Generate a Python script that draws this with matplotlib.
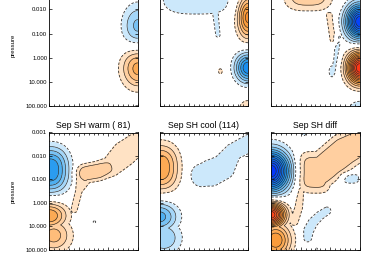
"""Monthly composite contour panels: warm / cool / diff, pressure vs. latitude."""
import numpy as np
import matplotlib
matplotlib.use('Agg')
import matplotlib.pyplot as plt
from matplotlib.ticker import FixedLocator, NullFormatter

plt.rcParams['font.family'] = ['Liberation Sans', 'DejaVu Sans']

# --- panel data ---
# x = fraction of panel width, y = log10(pressure), amp in contour intervals.
# blobs: centre, amplitude, widths, shape q (1 gaussian, >1 boxier)
# ridges: a path of points with width and amplitude at each point
titles = ["", "", "", "Sep SH warm ( 81)", "Sep SH cool (114)", "Sep SH diff"]

# top-left: warm
tl_cx = [1.00, 1.00, 1.00]
tl_cy = [-1.30, 0.41, 2.15]
tl_amp = [-3.3, 4.5, -1.5]
tl_sx = [0.123, 0.127, 0.07]
tl_sy = [0.65, 0.58, 0.25]
tl_q = [1.0, 1.0, 1.0]

# top-middle: cool
tm_cx = [0.42, 1.00, 1.00, 0.69, 1.00]
tm_cy = [-2.60, -1.69, 0.40, 0.55, 2.20]
tm_amp = [-1.8, 6.5, -7.0, 1.2, 2.3]
tm_sx = [0.36, 0.083, 0.10, 0.04, 0.08]
tm_sy = [0.75, 0.60, 0.42, 0.20, 0.35]
tm_q = [1.5, 1.0, 1.0, 1.0, 1.0]
tm_fing_x = [0.63, 0.66]
tm_fing_y = [-1.90, -0.95]
tm_fing_w = [0.035, 0.03]
tm_fing_a = [-1.5, -1.4]

# top-right: diff
tr_cx = [0.42, 1.00, 1.00, 1.00, 0.69]
tr_cy = [-2.70, -1.50, 0.41, 2.30, 0.55]
tr_amp = [2.8, -12.0, 13.0, -2.5, -1.4]
tr_sx = [0.22, 0.108, 0.097, 0.10, 0.045]
tr_sy = [0.60, 0.49, 0.44, 0.40, 0.30]
tr_q = [1.5, 1.0, 1.0, 1.0, 1.0]
tr_fing_x = [0.66, 0.70]
tr_fing_y = [-1.75, -0.75]
tr_fing_w = [0.04, 0.04]
tr_fing_a = [1.5, 1.5]
tr_strip_x = [0.76, 0.73, 0.70]
tr_strip_y = [-0.85, 0.10, 0.60]
tr_strip_w = [0.035, 0.035, 0.035]
tr_strip_a = [-1.4, -1.4, -1.4]

# bottom-left: Sep warm
bl_cx = [0.00, 0.00, 0.05, 0.51]
bl_cy = [-1.40, 0.55, 1.40, 0.82]
bl_amp = [-6.0, 5.0, 3.5, -1.3]
bl_sx = [0.16, 0.14, 0.14, 0.02]
bl_sy = [0.72, 0.40, 0.50, 0.06]
bl_q = [1.2, 1.0, 1.0, 1.0]
bl_band_x = [0.28, 0.33, 0.40, 0.55, 0.70, 0.85, 1.02]
bl_band_y = [0.30, -0.50, -1.25, -1.35, -1.55, -2.10, -2.60]
bl_band_w = [0.045, 0.045, 0.10, 0.10, 0.105, 0.145, 0.125]
bl_band_a = [1.2, 1.5, 2.4, 2.4, 2.0, 1.6, 1.6]

# bottom-middle: Sep cool
bm_cx = [0.00, 0.00, 0.05]
bm_cy = [-1.50, 0.60, 1.50]
bm_amp = [5.0, -4.5, -3.0]
bm_sx = [0.157, 0.145, 0.14]
bm_sy = [0.73, 0.45, 0.50]
bm_q = [1.2, 1.0, 1.0]
bm_band_x = [0.48, 0.58, 0.71, 0.83, 1.02]
bm_band_y = [-1.17, -1.27, -1.50, -2.17, -2.55]
bm_band_w = [0.13, 0.15, 0.14, 0.095, 0.10]
bm_band_a = [-1.7, -1.7, -1.7, -1.7, -1.7]

# bottom-right: Sep diff
br_cx = [0.00, 0.00, 0.05, 0.48, 0.90, 0.37, 0.51]
br_cy = [-1.35, 0.51, 1.60, -1.30, -1.03, -2.95, 1.97]
br_amp = [-13.0, 12.0, 6.0, 2.6, -1.6, -1.4, -1.4]
br_sx = [0.14, 0.108, 0.12, 0.165, 0.09, 0.025, 0.015]
br_sy = [0.60, 0.36, 0.50, 0.76, 0.20, 0.10, 0.04]
br_q = [1.0, 1.0, 1.0, 2.0, 1.5, 1.0, 1.0]
br_band_x = [0.55, 0.83, 1.03]
br_band_y = [-1.35, -2.20, -2.60]
br_band_w = [0.17, 0.18, 0.16]
br_band_a = [2.6, 2.6, 2.6]
br_fing_x = [0.33, 0.31, 0.26]
br_fing_y = [-0.55, 0.20, 0.80]
br_fing_w = [0.05, 0.05, 0.05]
br_fing_a = [1.5, 1.5, 1.5]
br_patch_x = [0.63, 0.55, 0.47, 0.42, 0.41]
br_patch_y = [0.35, 0.55, 0.85, 1.20, 1.50]
br_patch_w = [0.045, 0.05, 0.055, 0.06, 0.05]
br_patch_a = [-1.6, -1.6, -1.6, -1.6, -1.6]

panels = [
    ((tl_cx, tl_cy, tl_amp, tl_sx, tl_sy, tl_q), []),
    ((tm_cx, tm_cy, tm_amp, tm_sx, tm_sy, tm_q),
     [(tm_fing_x, tm_fing_y, tm_fing_w, tm_fing_a, 1.0)]),
    ((tr_cx, tr_cy, tr_amp, tr_sx, tr_sy, tr_q),
     [(tr_fing_x, tr_fing_y, tr_fing_w, tr_fing_a, 1.0),
      (tr_strip_x, tr_strip_y, tr_strip_w, tr_strip_a, 1.0)]),
    ((bl_cx, bl_cy, bl_amp, bl_sx, bl_sy, bl_q),
     [(bl_band_x, bl_band_y, bl_band_w, bl_band_a, 2.0)]),
    ((bm_cx, bm_cy, bm_amp, bm_sx, bm_sy, bm_q),
     [(bm_band_x, bm_band_y, bm_band_w, bm_band_a, 2.0)]),
    ((br_cx, br_cy, br_amp, br_sx, br_sy, br_q),
     [(br_band_x, br_band_y, br_band_w, br_band_a, 2.0),
      (br_fing_x, br_fing_y, br_fing_w, br_fing_a, 1.0),
      (br_patch_x, br_patch_y, br_patch_w, br_patch_a, 1.5)]),
]

ytick_vals = [0.001, 0.01, 0.1, 1.0, 10.0, 100.0]
ytick_labels = ["0.001", "0.010", "0.100", "1.000", "10.000", "100.000"]

# fill colours per contour band (1..14)
blue_cols = ["#cce8fb", "#a4d6f8", "#78c2f4", "#4eaff0", "#2a9cf0", "#1a8ef0", "#1480f2",
             "#0e72f4", "#0a62f6", "#0852f8", "#0644fa", "#0436fc", "#0228fe", "#0018ff"]
orange_cols = ["#ffe2c4", "#ffcfa0", "#ffbd7a", "#fcaa54", "#f99c3c", "#f89030", "#f8842a",
               "#f87626", "#fa6622", "#fc561e", "#fd461a", "#fe3616", "#ff2612", "#ff160e"]

levels = list(range(-15, 0)) + list(range(1, 16))
colors = blue_cols[::-1] + ["white"] + orange_cols

ASPECT = 0.27  # one decade of pressure in units of panel width
xg = np.linspace(0, 1, 260)
lg = np.linspace(-3, 2, 320)
XX, LL = np.meshgrid(xg, lg)
YN = LL * ASPECT


def ridge_field(px, py, pw, pa, q):
    """Tube-shaped feature along a path (signed)."""
    best = np.zeros_like(XX)
    sign = np.sign(pa[0])
    for j in range(len(px) - 1):
        ax0, ay0 = px[j], py[j] * ASPECT
        vx, vy = px[j + 1] - ax0, py[j + 1] * ASPECT - ay0
        t = np.clip(((XX - ax0) * vx + (YN - ay0) * vy) / (vx ** 2 + vy ** 2), 0, 1)
        d = np.hypot(XX - ax0 - t * vx, YN - ay0 - t * vy)
        w = pw[j] + t * (pw[j + 1] - pw[j])
        a = abs(pa[j]) + t * (abs(pa[j + 1]) - abs(pa[j]))
        best = np.maximum(best, a * np.exp(-0.5 * (d / w) ** (2 * q)))
    return sign * best


fig = plt.figure(figsize=(3.8, 2.54), dpi=100)
W, H = 380.0, 254.0
col_left = [49.3, 159.5, 271.2]
ax_w = 88.5
row_span = [(-14.9, 106.5), (132.5, 249.5)]

for i, ((cx, cy, amp, sx, sy, q), ridges) in enumerate(panels):
    r, c = divmod(i, 3)
    top, bot = row_span[r]
    ax = fig.add_axes([col_left[c] / W, 1 - bot / H, ax_w / W, (bot - top) / H])

    feats = []
    for x0, y0, a, wx, wy, qq in zip(cx, cy, amp, sx, sy, q):
        s = np.abs((XX - x0) / wx) ** (2 * qq) + np.abs((LL - y0) / wy) ** (2 * qq)
        feats.append(a * np.exp(-0.5 * s))
    for px, py, pw, pa, qq in ridges:
        feats.append(ridge_field(px, py, pw, pa, qq))
    pos = np.maximum.reduce([np.maximum(f, 0) for f in feats])
    neg = np.minimum.reduce([np.minimum(f, 0) for f in feats])
    Z = pos + neg

    P = 10 ** LL
    ax.contourf(XX, P, Z, levels=levels, colors=colors)
    ax.contour(XX, P, Z, levels=[-1, 1], colors='#333333', linewidths=0.6,
               linestyles=[(0, (3, 2))])
    solid = [l for l in levels if abs(l) >= 2]
    ax.contour(XX, P, Z, levels=solid, colors='#262626', linewidths=0.45, linestyles='solid')

    ax.set_yscale('log')
    ax.set_ylim(100, 0.001)
    ax.set_xlim(0, 1)
    ax.yaxis.set_major_locator(FixedLocator(ytick_vals))
    ax.yaxis.set_minor_locator(FixedLocator([]))
    if c == 0:
        labs = ytick_labels if r == 1 else [""] + ytick_labels[1:]
        ax.set_yticklabels(labs, fontsize=4.3)
        ax.set_ylabel("pressure", fontsize=4.3)
        ax.yaxis.set_label_coords(-0.385, 0.5)
    else:
        ax.yaxis.set_major_formatter(NullFormatter())
    ax.set_xticks(np.linspace(0, 1, 4))
    ax.set_xticks(np.linspace(0, 1, 19), minor=True)
    ax.set_xticklabels([])
    ax.tick_params(which='both', direction='in', top=True, right=True, width=0.5, pad=1.5)
    ax.tick_params(which='major', length=2.5)
    ax.tick_params(which='minor', length=1.4)
    for s in ax.spines.values():
        s.set_linewidth(0.6)
    if titles[i]:
        ax.set_title(titles[i], fontsize=6.3, pad=3.5)

fig.savefig("out.png", dpi=100)
